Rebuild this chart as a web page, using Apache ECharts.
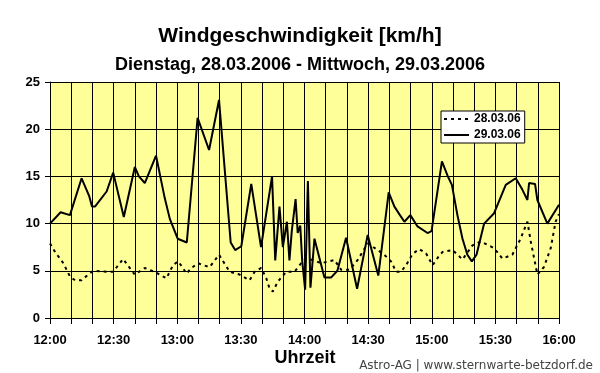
<!DOCTYPE html>
<html><head><meta charset="utf-8">
<script src="https://cdn.jsdelivr.net/npm/echarts@6/dist/echarts.min.js"></script>
<style>html,body{margin:0;padding:0;background:#fff}#c{width:600px;height:373px}</style>
</head><body><div id="c"></div>
<script>
// minutes after 12:00
const tickLabels = ['12:00','12:30','13:00','13:30','14:00','14:30','15:00','15:30','16:00'];
const yTicks = [0,5,10,15,20,25];
const seriesNames = ['28.03.06','29.03.06'];

const t28 = [0,2.4,6.3,9.4,11.8,14.9,18.0,20.4,26.7,29.8,32.9,34.5,37.6,40.0,44.7,50.2,54.9,58.0,60.4,62.7,64.3,66.7,69.8,72.1,75.3,79.7,84.7,89.4,94.1,96.5,99.6,102.0,103.5,105.1,107.4,111.4,115.3,118.4,120.8,123.9,127.9,134.1,137.3,141.2,145.1,149.8,154.5,157.6,160.8,163.2,165.5,167.9,171.0,174.1,177.3,180.4,183.2,185.1,189.8,194.5,199.2,203.2,209.4,213.3,218.0,221.9,225.1,226.7,229.8,232.9,236.1,238.4,240];
const v28 = [7.9,7.0,5.8,4.4,4.0,4.0,4.6,5.0,4.9,4.9,5.8,6.25,5.3,4.6,5.3,4.8,4.2,5.6,6.0,5.3,4.7,5.3,5.8,5.6,5.4,6.7,4.9,4.6,4.0,4.9,5.3,4.2,3.15,2.8,3.85,4.9,4.9,5.8,6.3,6.15,5.8,6.15,5.1,5.1,6.15,7.9,7.2,6.7,6.0,4.9,4.9,5.6,6.8,7.3,6.85,5.6,6.5,7.0,7.2,6.2,7.7,8.1,7.4,6.3,6.7,8.4,10.2,8.1,4.6,5.4,7.4,10.2,11.0];

const t29 = [0,5.0,9.4,14.9,18.5,19.8,21.2,26.7,29.8,34.8,40.0,41.9,44.7,50.0,54.1,56.5,60.2,64.5,69.6,75.0,79.7,85.2,87.3,90.2,94.9,99.5,104.7,106.2,108.2,109.8,111.7,112.9,114.0,115.8,116.8,118.0,118.9,120.3,121.6,122.8,124.7,129.4,132.6,135.5,139.6,144.8,149.8,154.8,159.7,162.4,164.7,167.1,169.9,173.3,178.0,179.9,184.8,187.4,189.5,192.1,194.5,196.8,198.9,201.1,204.7,209.4,214.9,219.6,222.7,225.1,225.9,228.7,229.8,234.5,240];
const v29 = [10.0,11.2,10.9,14.8,12.9,11.8,11.8,13.4,15.4,10.7,16.0,15.0,14.3,17.2,12.7,10.5,8.4,8.0,21.2,17.8,23.1,8.0,7.2,7.6,14.2,7.5,15.0,6.1,11.8,7.5,10.2,6.1,9.2,12.6,9.0,9.8,6.1,3.0,14.5,3.2,8.4,4.3,4.3,5.0,8.5,3.1,8.8,4.5,13.3,11.8,11.0,10.2,10.9,9.7,9.0,9.2,16.6,15.1,14.1,10.9,8.4,6.7,6.0,6.7,10.0,11.1,14.1,14.8,13.6,12.5,14.3,14.2,12.5,10.0,12.0];

const pairs = (t, v) => t.map((x, i) => [x, v[i]]);
const FONT = '"Liberation Sans", Arial, sans-serif';

const chart = echarts.init(document.getElementById('c'), null, {renderer: 'canvas'});
chart.setOption({
  animation: false,
  backgroundColor: '#ffffff',
  grid: {left: 50, right: 41, top: 82, bottom: 55, show: true, backgroundColor: '#FFFF99', borderWidth: 0},
  xAxis: {
    type: 'value', min: 0, max: 240, interval: 10,
    axisLine: {show: true, onZero: false, lineStyle: {color: '#000', width: 1}},
    axisTick: {show: true, length: 6, lineStyle: {color: '#000'}},
    splitLine: {show: true, lineStyle: {color: '#000', width: 1}},
    axisLabel: {
      margin: 16, color: '#000', fontFamily: FONT, fontWeight: 'bold', fontSize: 13,
      formatter: v => (v % 30 === 0 ? tickLabels[v / 30] : '')
    }
  },
  yAxis: {
    type: 'value', min: 0, max: 25, interval: 5,
    axisLine: {show: true, lineStyle: {color: '#000', width: 1}},
    axisTick: {show: true, length: 5, lineStyle: {color: '#000'}},
    splitLine: {show: true, lineStyle: {color: '#000', width: 1}},
    axisLabel: {margin: 10, color: '#000', fontFamily: FONT, fontWeight: 'bold', fontSize: 13,
      formatter: v => String(yTicks[yTicks.indexOf(v)])}
  },
  legend: {
    orient: 'vertical', left: 441, top: 111,
    backgroundColor: '#fff', borderColor: '#000', borderWidth: 1,
    padding: [2, 4, 2, 2], itemGap: 4, itemWidth: 25, itemHeight: 12,
    itemStyle: {opacity: 0},
    textStyle: {color: '#000', fontFamily: FONT, fontWeight: 'bold', fontSize: 12},
    data: seriesNames
  },
  graphic: [
    {type: 'text', x: 300, y: 36, style: {text: 'Windgeschwindigkeit [km/h]', font: 'bold 21px ' + FONT, fill: '#000', align: 'center', verticalAlign: 'middle'}},
    {type: 'text', x: 300, y: 65, style: {text: 'Dienstag, 28.03.2006 - Mittwoch, 29.03.2006', font: 'bold 18px ' + FONT, fill: '#000', align: 'center', verticalAlign: 'middle'}},
    {type: 'text', x: 305, y: 358, style: {text: 'Uhrzeit', font: 'bold 18px ' + FONT, fill: '#000', align: 'center', verticalAlign: 'middle'}},
    {type: 'text', x: 593, y: 366, style: {text: 'Astro-AG | www.sternwarte-betzdorf.de', font: '12px "DejaVu Sans", Verdana, sans-serif', fill: '#444', align: 'right', verticalAlign: 'middle'}}
  ],
  series: [
    {name: seriesNames[0], type: 'line', data: pairs(t28, v28), symbol: 'none', showSymbol: false,
      lineStyle: {color: '#000', width: 2, type: [3, 4]}, itemStyle: {color: '#000'}},
    {name: seriesNames[1], type: 'line', data: pairs(t29, v29), symbol: 'none', showSymbol: false,
      lineStyle: {color: '#000', width: 2, type: 'solid'}, itemStyle: {color: '#000'}}
  ]
});
</script>
</body></html>
